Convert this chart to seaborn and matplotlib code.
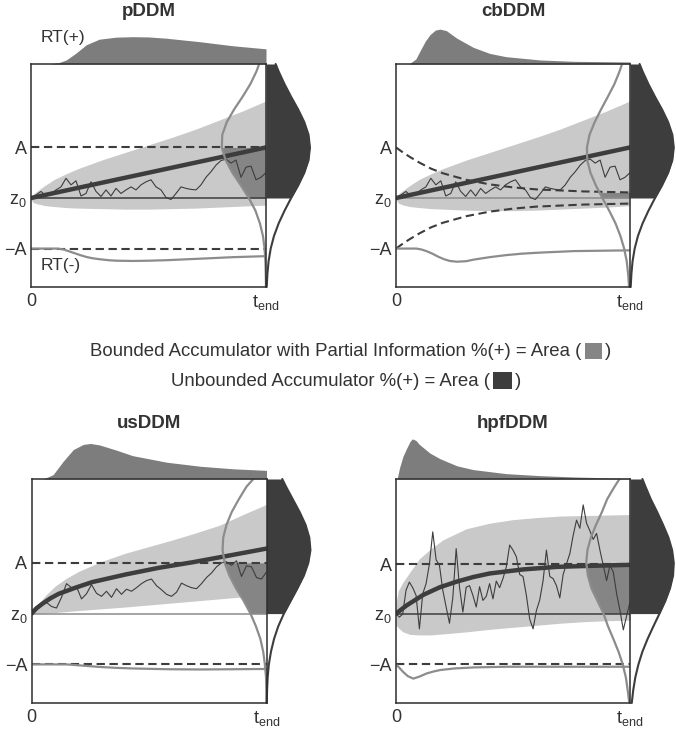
import numpy as np
import matplotlib.pyplot as plt
from matplotlib.patches import Rectangle
import seaborn as sns

sns.set_theme(style='white')
plt.rcParams['font.family'] = ['Liberation Sans', 'DejaVu Sans']

DARK = '#3d3d3d'
MID = '#858585'
TOPFILL = '#7d7d7d'
LIGHT = '#c9c9c9'
LINE_GRAY = '#8c8c8c'
TEXT = '#333333'

Y_TOP = 2.65
Y_BOT = -1.76

# shared grids (time for the spread band, evidence level for the end-time densities)
env_t = [0, .01, .03, .06, .1, .15, .2, .3, .4, .5, .6, .7, .8, .9, 1.0]
dist_y = [-1.76, -1.5, -1.25, -1, -.75, -.5, -.25, 0, .25, .5, .75, 1, 1.25, 1.5, 1.75, 2, 2.25, 2.5, 2.65]

# ---- pDDM
pddm_env_hi = [-.03, .08, .15, .25, .37, .48, .58, .75, .90, 1.05, 1.20, 1.36, 1.54, 1.72, 1.92]
pddm_env_lo = [-.03, -.09, -.12, -.15, -.17, -.19, -.20, -.21, -.22, -.22, -.21, -.20, -.18, -.16, -.14]
pddm_mean_t = [0, 1]
pddm_mean = [0, 1]
pddm_path = [0, .06, .13, .04, .08, .16, .22, .39, .26, .34, .04, .09, .32, .13, .03, .16,
             .04, .19, .09, .16, .22, .16, .26, .32, .36, .22, .16, .01, -.03, .09, .22, .19,
             .17, .16, .26, .41, .52, .65, .74, .77, .69, .75, .41, .61, .63, .36, .41, .50]
pddm_rtp_t = [.08, .12, .15, .19, .235, .29, .36, .43, .5, .576, .72, .86, 1.0]
pddm_rtp = [0, .03, .08, .21, .38, .49, .53, .54, .535, .51, .44, .36, .30]
pddm_rtn_t = [0, .114, .14, .178, .21, .235, .26, .29, .33, .363, .434, .5, .576, .72, .86, 1.0]
pddm_rtn = [0, 0, .02, .08, .13, .165, .19, .21, .23, .24, .245, .24, .23, .20, .17, .15]
pddm_dark = [.003, .006, .011, .020, .034, .054, .079, .107, .137, .163, .181, .187, .181, .163, .137, .107, .079, .054, .041]
pddm_gray = [0, .001, .0025, .006, .013, .026, .045, .073, .107, .143, .172, .188, .186, .167, .136, .100, .067, .041, .029]

# ---- cbDDM
cbddm_env_hi = [-.03, .08, .15, .25, .37, .48, .58, .75, .90, 1.05, 1.20, 1.36, 1.54, 1.72, 1.92]
cbddm_env_lo = [-.03, -.10, -.14, -.17, -.19, -.21, -.22, -.24, -.25, -.25, -.24, -.22, -.20, -.18, -.15]
cbddm_mean_t = [0, 1]
cbddm_mean = [0, 1]
cbddm_path = list(pddm_path)
cbddm_rtp_t = [.055, .085, .105, .125, .145, .168, .188, .215, .26, .33, .40, .47, .615, .758, 1.0]
cbddm_rtp = [0, .10, .28, .45, .58, .67, .69, .66, .51, .33, .21, .145, .08, .053, .04]
cbddm_rtn_t = [0, .088, .11, .13, .155, .18, .205, .23, .26, .30, .33, .40, .47, .54, .615, .76, 1.0]
cbddm_rtn = [0, 0, .02, .05, .10, .16, .21, .245, .26, .25, .22, .17, .13, .10, .08, .05, .035]
cbddm_dark = list(pddm_dark)
cbddm_gray = [.004, .008, .014, .025, .041, .062, .089, .118, .146, .169, .183, .184, .173, .151, .124, .095, .067, .045, .034]
cbddm_bound_t = [0, .03, .06, .1, .15, .2, .3, .4, .5, .6, .7, .8, .9, 1.0]
cbddm_bound_hi = [1.0, .90, .81, .70, .58, .49, .36, .27, .21, .17, .15, .13, .12, .11]
cbddm_bound_lo = [-1.0, -.90, -.81, -.70, -.58, -.49, -.36, -.27, -.21, -.17, -.15, -.13, -.12, -.11]

# ---- usDDM
usddm_env_hi = [0, .08, .19, .36, .54, .70, .83, 1.03, 1.19, 1.32, 1.45, 1.59, 1.74, 1.95, 2.15]
usddm_env_lo = [0, 0, .005, .01, .02, .04, .06, .095, .13, .17, .21, .25, .29, .33, .36]
usddm_mean_t = [0, .02, .045, .08, .116, .187, .258, .4, .54, .684, .826, 1.0]
usddm_mean = [0, .10, .19, .30, .39, .51, .62, .77, .90, 1.01, 1.13, 1.28]
usddm_path = [0, .09, .18, .22, .14, .11, .32, .59, .51, .53, .29, .39, .57, .40, .34, .44,
              .32, .49, .38, .48, .44, .51, .59, .65, .68, .55, .47, .38, .34, .42, .60, .55,
              .51, .49, .59, .71, .80, .92, 1.0, 1.02, .95, 1.04, .73, .94, .92, .71, .68, .82]
usddm_rtp_t = [.05, .092, .135, .178, .22, .25, .29, .36, .43, .576, .72, .86, 1.0]
usddm_rtp = [0, .086, .35, .58, .68, .70, .67, .57, .46, .33, .25, .20, .17]
usddm_rtn_t = [0, .15, .22, .29, .36, .43, .58, .72, .86, 1.0]
usddm_rtn = [0, 0, .025, .05, .068, .08, .095, .10, .095, .09]
usddm_dark = [.001, .0025, .005, .010, .019, .032, .050, .074, .103, .132, .159, .178, .187, .182, .166, .141, .112, .083, .067]
usddm_gray = [0, .001, .002, .007, .014, .026, .045, .068, .097, .130, .158, .178, .187, .184, .170, .148, .118, .085, .056]

# ---- hpfDDM
hpf_env_hi = [.22, .45, .62, .82, 1.08, 1.28, 1.45, 1.67, 1.78, 1.85, 1.89, 1.92, 1.93, 1.94, 1.95]
hpf_env_lo = [-.22, -.28, -.36, -.41, -.42, -.42, -.40, -.36, -.31, -.27, -.23, -.19, -.16, -.14, -.13]
hpf_mean_t = [0, .045, .117, .188, .26, .33, .40, .544, .687, .83, 1.0]
hpf_mean = [0, .16, .37, .52, .63, .72, .79, .87, .92, .94, .96]
hpf_path = [0, -.07, -.01, .46, .62, .51, .36, -.30, .39, .59, .98, 1.61, 1.06, .95, .46, .13,
            -.19, .32, 1.28, .52, .03, .52, .55, .36, .13, .53, .26, .34, .59, .29, .64, .51,
            .69, .92, 1.35, 1.25, 1.12, .77, .73, .36, -.11, -.30, .06, .27, .65, 1.25, .73, .69,
            .55, .31, .77, .98, 1.18, 1.54, 1.84, 1.68, 2.14, 1.78, 1.63, 1.46, 1.58, 1.25, .95, .65,
            .95, .82, .39, .06, -.32, -.04, .22]
hpf_rtp_t = [.005, .015, .03, .045, .06, .07, .085, .10, .145, .188, .26, .33, .47, .615, .76, 1.0]
hpf_rtp = [0, .22, .45, .60, .74, .79, .76, .68, .51, .40, .26, .185, .106, .066, .04, .013]
hpf_rtn_t = [0, .015, .03, .05, .074, .1, .13, .16, .19, .25, .33, .47, .6, 1.0]
hpf_rtn = [0, .07, .146, .23, .28, .24, .18, .14, .11, .08, .06, .046, .046, .046]
hpf_dark = [.0075, .014, .023, .036, .053, .075, .100, .126, .151, .171, .184, .187, .180, .164, .141, .116, .089, .066, .053]
hpf_gray = [.003, .010, .018, .031, .049, .071, .094, .113, .139, .165, .180, .187, .182, .167, .145, .120, .098, .066, .045]

panels = [
    dict(name='pDDM', pos=[31 / 676, 449 / 736, 235 / 676, 223 / 736], a=1.0, z_color=DARK,
         env_hi=pddm_env_hi, env_lo=pddm_env_lo, mean_t=pddm_mean_t, mean=pddm_mean,
         path=pddm_path, rtp_t=pddm_rtp_t, rtp=pddm_rtp, rtn_t=pddm_rtn_t, rtn=pddm_rtn,
         dark=pddm_dark, gray=pddm_gray, bound=None, labels=True),
    dict(name='cbDDM', pos=[396 / 676, 449 / 736, 234 / 676, 223 / 736], a=1.0, z_color=LINE_GRAY,
         env_hi=cbddm_env_hi, env_lo=cbddm_env_lo, mean_t=cbddm_mean_t, mean=cbddm_mean,
         path=cbddm_path, rtp_t=cbddm_rtp_t, rtp=cbddm_rtp, rtn_t=cbddm_rtn_t, rtn=cbddm_rtn,
         dark=cbddm_dark, gray=cbddm_gray,
         bound=(cbddm_bound_t, cbddm_bound_hi, cbddm_bound_lo), labels=False),
    dict(name='usDDM', pos=[31.5 / 676, 33 / 736, 235 / 676, 224 / 736], a=1.0, z_color=LINE_GRAY,
         env_hi=usddm_env_hi, env_lo=usddm_env_lo, mean_t=usddm_mean_t, mean=usddm_mean,
         path=usddm_path, rtp_t=usddm_rtp_t, rtp=usddm_rtp, rtn_t=usddm_rtn_t, rtn=usddm_rtn,
         dark=usddm_dark, gray=usddm_gray, bound=None, labels=False),
    dict(name='hpfDDM', pos=[396 / 676, 33 / 736, 234 / 676, 224 / 736], a=0.97, z_color=DARK,
         env_hi=hpf_env_hi, env_lo=hpf_env_lo, mean_t=hpf_mean_t, mean=hpf_mean,
         path=hpf_path, rtp_t=hpf_rtp_t, rtp=hpf_rtp, rtn_t=hpf_rtn_t, rtn=hpf_rtn,
         dark=hpf_dark, gray=hpf_gray, bound=None, labels=False),
]

fig = plt.figure(figsize=(6.76, 7.36), dpi=100)
y = np.array(dist_y)

for p in panels:
    ax = fig.add_axes(p['pos'])
    ax.set_xlim(0, 1)
    ax.set_ylim(Y_BOT, Y_TOP)
    a = p['a']
    dark = np.array(p['dark'])
    gray = np.array(p['gray'])

    # spread of the accumulator
    ax.fill_between(env_t, p['env_lo'], p['env_hi'], color=LIGHT, lw=0, zorder=1)

    # bounded accumulator area at t_end (between z0 and the bound)
    b_end = p['bound'][1][-1] if p['bound'] else a
    inside = (y > 0) & (y < b_end)
    yy = np.concatenate([[0], y[inside], [b_end]])
    ax.fill_betweenx(yy, 1 - np.interp(yy, y, gray), 1, color=MID, lw=0, zorder=2)

    ax.plot([0, 1], [0, 0], color=p['z_color'], lw=1.1, zorder=3)
    if p['bound'] is None:
        ax.plot([0, 1], [a, a], color=DARK, lw=1.5, dashes=(4, 2.2), zorder=3)
        ax.plot([0, 1], [-1, -1], color=DARK, lw=1.5, dashes=(4, 2.2), zorder=3)
    else:
        bt, bh, bl = p['bound']
        ax.plot(bt, bh, color=DARK, lw=1.5, dashes=(4, 2.2), zorder=3)
        ax.plot(bt, bl, color=DARK, lw=1.5, dashes=(4, 2.2), zorder=3)

    sns.lineplot(x=np.linspace(0, 1, len(p['path'])), y=p['path'], ax=ax, color=DARK,
                 lw=0.8, estimator=None, sort=False, zorder=4)
    sns.lineplot(x=p['mean_t'], y=p['mean'], ax=ax, color=DARK, lw=3.2,
                 estimator=None, sort=False, zorder=5)

    # RT(-) density hanging from -A
    ax.plot(p['rtn_t'], -1 - np.array(p['rtn']), color=LINE_GRAY, lw=1.6, zorder=6)
    # end-time distributions
    ax.plot(1 - gray, y, color=LINE_GRAY, lw=1.6, zorder=6)
    up = y >= 0
    ax.fill_betweenx(y[up], 1, 1 + dark[up], color=DARK, lw=0, clip_on=False, zorder=7)
    ax.plot(1 + dark, y, color=DARK, lw=1.5, clip_on=False, zorder=7)
    # RT(+) density on top of the box
    ax.fill_between(p['rtp_t'], Y_TOP, Y_TOP + np.array(p['rtp']), color=TOPFILL, lw=0,
                    clip_on=False, zorder=7)

    for s in ax.spines.values():
        s.set_color('#2e2e2e')
        s.set_linewidth(1.1)
        s.set_zorder(9)
    ax.set_xticks([0, 1], ['0', r'$\mathregular{t_{end}}$'])
    ax.set_yticks([-1, 0, a], ['\u2212A', r'$\mathregular{z_0}$', 'A'])
    ax.tick_params(length=0, labelsize=13, colors=TEXT)
    ax.tick_params(axis='x', pad=4)
    ax.tick_params(axis='y', pad=3)
    ax.grid(False)

    top_off = 1.235 if p['pos'][1] > 0.5 else 1.25
    ax.text(0.5, top_off, p['name'], transform=ax.transAxes, ha='center', va='center',
            fontsize=13.5, fontweight='bold', color=TEXT)
    if p['labels']:
        ax.text(0.04, 3.18, 'RT(+)', ha='left', va='center', fontsize=12.5, color=TEXT)
        ax.text(0.04, -1.33, 'RT(-)', ha='left', va='center', fontsize=12.5, color=TEXT)

# legend lines in the middle
fs = 13.4
fig.text(581 / 676, 1 - 351 / 736, 'Bounded Accumulator with Partial Information %(+) = Area (',
         ha='right', va='center', fontsize=fs, color=TEXT)
fig.add_artist(Rectangle((585 / 676, 1 - 359 / 736), 17 / 676, 16 / 736,
                         transform=fig.transFigure, color=MID, lw=0))
fig.text(605 / 676, 1 - 351 / 736, ')', ha='left', va='center', fontsize=fs, color=TEXT)

fig.text(490 / 676, 1 - 381 / 736, 'Unbounded Accumulator %(+) = Area (',
         ha='right', va='center', fontsize=fs, color=TEXT)
fig.add_artist(Rectangle((493 / 676, 1 - 389 / 736), 19 / 676, 17 / 736,
                         transform=fig.transFigure, color=DARK, lw=0))
fig.text(515 / 676, 1 - 381 / 736, ')', ha='left', va='center', fontsize=fs, color=TEXT)

fig.savefig('out.png', dpi=100)
